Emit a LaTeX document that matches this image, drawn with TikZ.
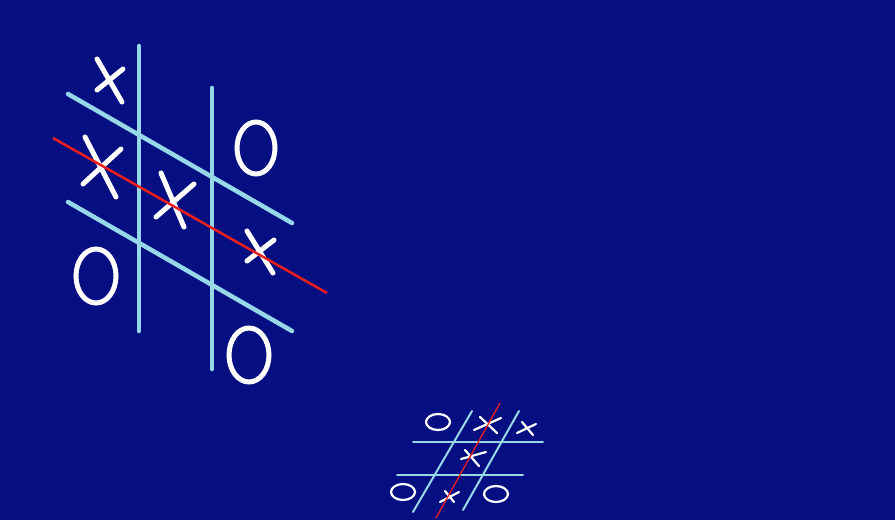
\documentclass[tikz,border=0pt]{standalone}
\usepackage{xcolor}
\usetikzlibrary{math}
\definecolor{boardbg}{RGB}{6,15,130}
\definecolor{gridblue}{RGB}{150,215,232}
\definecolor{winred}{RGB}{235,30,30}

\tikzset{
  bigline/.style={line width=4.5, color=gridblue, line cap=round},
  smallline/.style={line width=2, color=gridblue, line cap=round},
  bigmark/.style={line width=5, color=white, line cap=round},
  smallmark/.style={line width=2.2, color=white, line cap=round},
}

\begin{document}
\begin{tikzpicture}[x=1pt,y=-1pt]
\fill[boardbg] (0,0) rectangle (895,520);
\useasboundingbox (0,0) rectangle (895,520);

% big board
\draw[bigline] (139,46) -- (139,331);
\draw[bigline] (212,88) -- (212,369);
\draw[bigline] (68,94) -- (292,223);
\draw[bigline] (68,202) -- (292,331);

\draw[bigmark] (97,59) -- (122,102) (97,90) -- (123,69);
\draw[bigmark] (85,137) -- (116,197) (83,184) -- (121,149);
\draw[bigmark] (161,173) -- (184,227) (156,217) -- (194,184);
\draw[bigmark] (247,231) -- (273,273) (247,261) -- (274,240);

\draw[bigmark] (256,148) ellipse (19 and 26);
\draw[bigmark] (96,276) ellipse (20 and 27);
\draw[bigmark] (249,355) ellipse (20 and 27);

\draw[line width=2.5, color=winred] (53,138) -- (327,293);

% small board
\draw[smallline] (413,442) -- (543,442);
\draw[smallline] (397,475) -- (523,475);
\draw[smallline] (472,411) -- (413,512);
\draw[smallline] (519,411) -- (463,510);

\draw[smallmark] (438,422) ellipse (12 and 8);
\draw[smallmark] (403,492) ellipse (12 and 8);
\draw[smallmark] (496,494) ellipse (12 and 8);

\draw[smallmark] (480,417) -- (497,433) (474,430) -- (501,418);
\draw[smallmark] (522,422) -- (533,435) (517,433) -- (536,424);
\draw[smallmark] (465,450) -- (479,466) (461,459) -- (486,452);
\draw[smallmark] (445,491) -- (454,502) (440,502) -- (459,492);

\draw[line width=1.3, color=winred] (500,403) -- (436,518);
\end{tikzpicture}
\end{document}
